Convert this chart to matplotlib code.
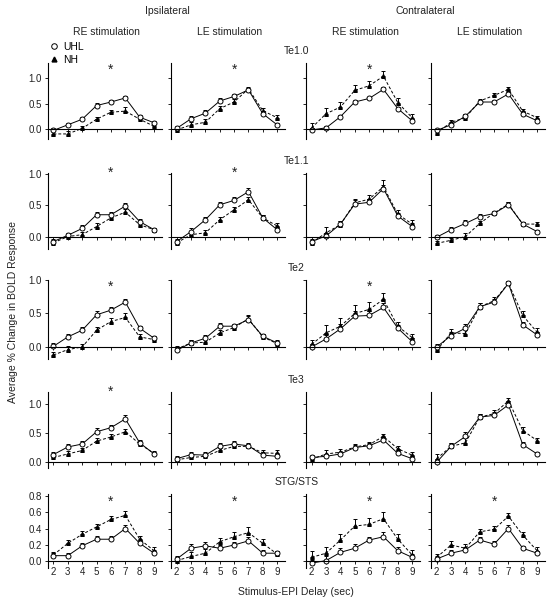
import numpy as np
import matplotlib.pyplot as plt
from matplotlib.lines import Line2D
import matplotlib.transforms as mtransforms

plt.rcParams['font.family'] = ['Liberation Sans', 'DejaVu Sans']
plt.rcParams['font.size'] = 7

delays = [2, 3, 4, 5, 6, 7, 8, 9]
regions = ['Te1.0', 'Te1.1', 'Te2', 'Te3', 'STG/STS']
col_titles = ['RE stimulation', 'LE stimulation', 'RE stimulation', 'LE stimulation']

# columns: ipsilateral RE, ipsilateral LE, contralateral RE, contralateral LE
uhl_te10 = [[-0.03, 0.08, 0.19, 0.46, 0.53, 0.61, 0.23, 0.12],
            [0.01, 0.20, 0.31, 0.55, 0.64, 0.77, 0.30, 0.08],
            [-0.02, 0.02, 0.24, 0.53, 0.60, 0.78, 0.40, 0.16],
            [-0.03, 0.08, 0.25, 0.53, 0.53, 0.69, 0.29, 0.16]]
nh_te10 = [[-0.10, -0.10, 0.01, 0.19, 0.33, 0.35, 0.19, 0.05],
           [-0.02, 0.08, 0.13, 0.40, 0.53, 0.79, 0.36, 0.22],
           [0.02, 0.30, 0.43, 0.76, 0.85, 1.04, 0.52, 0.22],
           [-0.08, 0.13, 0.22, 0.55, 0.66, 0.78, 0.35, 0.22]]
uhl_te10_err = [[0.05, 0.04, 0.05, 0.06, 0.04, 0.04, 0.05, 0.04],
                [0.04, 0.05, 0.06, 0.05, 0.05, 0.04, 0.05, 0.04],
                [0.03, 0.03, 0.03, 0.03, 0.03, 0.04, 0.04, 0.04],
                [0.03, 0.03, 0.04, 0.03, 0.03, 0.03, 0.04, 0.03]]
nh_te10_err = [[0.05, 0.05, 0.05, 0.05, 0.05, 0.08, 0.05, 0.05],
               [0.04, 0.05, 0.07, 0.06, 0.05, 0.04, 0.05, 0.05],
               [0.09, 0.12, 0.10, 0.10, 0.10, 0.10, 0.08, 0.07],
               [0.04, 0.05, 0.07, 0.04, 0.05, 0.05, 0.05, 0.04]]

uhl_te11 = [[-0.08, 0.02, 0.13, 0.35, 0.35, 0.49, 0.24, 0.11],
            [-0.08, 0.08, 0.27, 0.51, 0.58, 0.72, 0.30, 0.11],
            [-0.08, 0.01, 0.20, 0.52, 0.55, 0.77, 0.33, 0.16],
            [-0.01, 0.11, 0.21, 0.32, 0.37, 0.51, 0.20, 0.08]]
nh_te11 = [[-0.10, 0.00, 0.03, 0.16, 0.30, 0.39, 0.19, 0.11],
           [-0.10, 0.03, 0.06, 0.27, 0.43, 0.59, 0.30, 0.17],
           [-0.10, 0.06, 0.19, 0.54, 0.60, 0.80, 0.36, 0.20],
           [-0.11, -0.06, 0.00, 0.21, 0.38, 0.52, 0.20, 0.20]]
uhl_te11_err = [[0.04, 0.04, 0.05, 0.05, 0.04, 0.05, 0.04, 0.03],
                [0.04, 0.05, 0.05, 0.05, 0.05, 0.06, 0.05, 0.04],
                [0.04, 0.05, 0.05, 0.06, 0.05, 0.06, 0.05, 0.05],
                [0.03, 0.04, 0.05, 0.04, 0.03, 0.04, 0.03, 0.03]]
nh_te11_err = [[0.04, 0.04, 0.05, 0.05, 0.05, 0.05, 0.04, 0.03],
               [0.04, 0.05, 0.05, 0.05, 0.05, 0.05, 0.05, 0.04],
               [0.04, 0.10, 0.06, 0.07, 0.07, 0.10, 0.06, 0.06],
               [0.04, 0.04, 0.06, 0.04, 0.03, 0.04, 0.03, 0.04]]

uhl_te2 = [[0.01, 0.15, 0.25, 0.48, 0.55, 0.67, 0.28, 0.13],
           [-0.05, 0.06, 0.13, 0.31, 0.31, 0.41, 0.16, 0.06],
           [0.00, 0.12, 0.27, 0.46, 0.47, 0.59, 0.28, 0.08],
           [0.00, 0.17, 0.28, 0.60, 0.67, 0.95, 0.33, 0.18]]
nh_te2 = [[-0.12, -0.04, 0.00, 0.25, 0.38, 0.44, 0.15, 0.11],
          [-0.03, 0.06, 0.07, 0.21, 0.29, 0.42, 0.15, 0.05],
          [0.04, 0.21, 0.31, 0.50, 0.56, 0.71, 0.31, 0.14],
          [-0.05, 0.21, 0.20, 0.60, 0.69, 0.95, 0.47, 0.22]]
uhl_te2_err = [[0.05, 0.05, 0.05, 0.05, 0.05, 0.05, 0.04, 0.04],
               [0.04, 0.04, 0.05, 0.05, 0.04, 0.05, 0.04, 0.04],
               [0.05, 0.07, 0.08, 0.07, 0.06, 0.07, 0.05, 0.05],
               [0.04, 0.05, 0.06, 0.05, 0.05, 0.04, 0.05, 0.05]]
nh_te2_err = [[0.05, 0.06, 0.05, 0.05, 0.05, 0.07, 0.04, 0.04],
              [0.04, 0.04, 0.07, 0.05, 0.04, 0.05, 0.05, 0.04],
              [0.07, 0.12, 0.12, 0.12, 0.11, 0.10, 0.07, 0.06],
              [0.04, 0.06, 0.07, 0.06, 0.05, 0.04, 0.07, 0.06]]

uhl_te3 = [[0.13, 0.26, 0.31, 0.52, 0.59, 0.74, 0.33, 0.14],
           [0.06, 0.13, 0.12, 0.27, 0.31, 0.28, 0.12, 0.10],
           [0.08, 0.10, 0.14, 0.25, 0.28, 0.38, 0.15, 0.06],
           [0.00, 0.27, 0.44, 0.77, 0.80, 0.98, 0.30, 0.14]]
nh_te3 = [[0.08, 0.14, 0.20, 0.36, 0.43, 0.52, 0.31, 0.15],
          [0.04, 0.08, 0.10, 0.20, 0.27, 0.27, 0.16, 0.15],
          [0.05, 0.14, 0.17, 0.26, 0.30, 0.44, 0.23, 0.12],
          [0.06, 0.27, 0.33, 0.77, 0.83, 1.05, 0.54, 0.37]]
uhl_te3_err = [[0.05, 0.05, 0.06, 0.06, 0.05, 0.07, 0.05, 0.04],
               [0.04, 0.05, 0.05, 0.05, 0.05, 0.04, 0.05, 0.04],
               [0.04, 0.04, 0.04, 0.04, 0.04, 0.05, 0.05, 0.04],
               [0.05, 0.05, 0.07, 0.06, 0.06, 0.06, 0.05, 0.04]]
nh_te3_err = [[0.05, 0.05, 0.05, 0.05, 0.05, 0.05, 0.05, 0.04],
              [0.04, 0.04, 0.04, 0.04, 0.04, 0.04, 0.04, 0.05],
              [0.04, 0.06, 0.05, 0.05, 0.05, 0.04, 0.05, 0.05],
              [0.08, 0.06, 0.08, 0.06, 0.07, 0.04, 0.06, 0.05]]

uhl_stg = [[0.07, 0.07, 0.19, 0.27, 0.27, 0.40, 0.22, 0.10],
           [0.03, 0.16, 0.19, 0.16, 0.20, 0.25, 0.10, 0.10],
           [-0.02, 0.01, 0.11, 0.16, 0.26, 0.30, 0.13, 0.05],
           [0.03, 0.10, 0.14, 0.26, 0.21, 0.40, 0.16, 0.10]]
nh_stg = [[0.08, 0.22, 0.33, 0.42, 0.51, 0.56, 0.27, 0.13],
          [0.01, 0.06, 0.10, 0.24, 0.30, 0.35, 0.22, 0.09],
          [0.05, 0.10, 0.26, 0.43, 0.45, 0.52, 0.27, 0.08],
          [0.05, 0.20, 0.16, 0.36, 0.39, 0.55, 0.32, 0.13]]
uhl_stg_err = [[0.03, 0.03, 0.04, 0.04, 0.04, 0.04, 0.04, 0.04],
               [0.04, 0.05, 0.05, 0.04, 0.04, 0.05, 0.04, 0.03],
               [0.04, 0.05, 0.05, 0.05, 0.04, 0.06, 0.05, 0.04],
               [0.03, 0.04, 0.04, 0.04, 0.04, 0.04, 0.03, 0.03]]
nh_stg_err = [[0.03, 0.04, 0.04, 0.04, 0.04, 0.05, 0.04, 0.04],
              [0.04, 0.05, 0.05, 0.05, 0.06, 0.07, 0.05, 0.04],
              [0.08, 0.08, 0.07, 0.08, 0.08, 0.08, 0.06, 0.06],
              [0.04, 0.05, 0.05, 0.04, 0.04, 0.04, 0.04, 0.04]]

uhl_all = [uhl_te10, uhl_te11, uhl_te2, uhl_te3, uhl_stg]
nh_all = [nh_te10, nh_te11, nh_te2, nh_te3, nh_stg]
uhl_err_all = [uhl_te10_err, uhl_te11_err, uhl_te2_err, uhl_te3_err, uhl_stg_err]
nh_err_all = [nh_te10_err, nh_te11_err, nh_te2_err, nh_te3_err, nh_stg_err]

# significant differences (asterisk at 6 s)
stars = [[True, True, True, False],
         [True, True, False, False],
         [True, False, True, False],
         [True, False, False, False],
         [True, True, True, True]]

W, H = 558, 600
col_px = [(47.7, 162), (171, 285), (306, 420), (431, 545)]
row_px = [(63, 139), (173, 249), (280, 359), (392, 468), (494, 568)]
ylims = [(-0.2, 1.3), (-0.2, 1.02), (-0.18, 1.0), (-0.1, 1.2), (-0.08, 0.82)]
yticks = [[0, 0.5, 1.0]] * 4 + [[0, 0.2, 0.4, 0.6, 0.8]]
star_frac = [0.91, 1.0, 0.91, 1.0, 0.89]

fig = plt.figure(figsize=(W / 100, H / 100), dpi=100)

for r in range(5):
    for c in range(4):
        x0, x1 = col_px[c]
        y0, y1 = row_px[r]
        ax = fig.add_axes([x0 / W, 1 - y1 / H, (x1 - x0) / W, (y1 - y0) / H])
        zeros = np.zeros(len(delays))
        ax.errorbar(delays, nh_all[r][c], yerr=[zeros, nh_err_all[r][c]], fmt='^', ls=(0, (3, 2)),
                    color='black', mfc='black', ms=2.6, lw=0.7, elinewidth=0.7,
                    capsize=1.5, capthick=0.7)
        ax.errorbar(delays, uhl_all[r][c], yerr=[zeros, uhl_err_all[r][c]], fmt='o-',
                    color='black', mfc='white', mec='black', mew=0.7, ms=3.6, lw=0.7,
                    elinewidth=0.7, capsize=1.5, capthick=0.7)
        ax.set_xlim(1.6, 9.55)
        ax.set_ylim(*ylims[r])
        ax.spines['top'].set_visible(False)
        ax.spines['right'].set_visible(False)
        ax.spines['bottom'].set_position(('data', 0))
        ax.spines['left'].set_linewidth(0.8)
        ax.spines['bottom'].set_linewidth(0.8)
        ax.set_xticks(delays)
        ax.set_yticks(yticks[r])
        ax.tick_params(direction='out', length=2.5, width=0.7, labelsize=7, pad=1.5,
                       colors='#222222')
        if r == 4:
            ax.set_xticklabels([str(d) for d in delays])
        else:
            ax.set_xticklabels([])
        if c == 0:
            ax.set_yticklabels(['%.1f' % v for v in yticks[r]])
        else:
            ax.set_yticklabels([])
        if stars[r][c]:
            trans = mtransforms.blended_transform_factory(ax.transData, ax.transAxes)
            ax.text(6, star_frac[r], '*', transform=trans, ha='center', va='center',
                    fontsize=10, color='#222222')
        ax.patch.set_visible(False)

    yt = row_px[r][0] - 12
    fig.text(296.5 / W, 1 - yt / H, regions[r], ha='center', va='center', fontsize=7.5,
             color='#222222')

for c in range(4):
    cx = (col_px[c][0] + col_px[c][1]) / 2 + 2
    fig.text(cx / W, 1 - 32 / H, col_titles[c], ha='center', va='center', fontsize=7.5,
             color='#222222')
fig.text(167 / W, 1 - 11 / H, 'Ipsilateral', ha='center', va='center', fontsize=7.5,
         color='#222222')
fig.text(425 / W, 1 - 11 / H, 'Contralateral', ha='center', va='center', fontsize=7.5,
         color='#222222')
fig.text(13 / W, 1 - 312 / H, 'Average % Change in BOLD Response', rotation=90,
         ha='center', va='center', fontsize=7.5, color='#222222')
fig.text(296 / W, 1 - 592 / H, 'Stimulus-EPI Delay (sec)', ha='center', va='center',
         fontsize=7.5, color='#222222')

handles = [Line2D([], [], marker='o', ls='none', mfc='white', mec='black', mew=0.7, ms=4),
           Line2D([], [], marker='^', ls='none', mfc='black', mec='black', ms=3.5)]
fig.legend(handles, ['UHL', 'NH'], loc='upper left', bbox_to_anchor=(50 / W, 1 - 42 / H),
           frameon=False, fontsize=7.5, handlelength=0.8, handletextpad=0.5,
           labelspacing=0.25, borderpad=0, borderaxespad=0)

fig.savefig('out.png', dpi=100)
